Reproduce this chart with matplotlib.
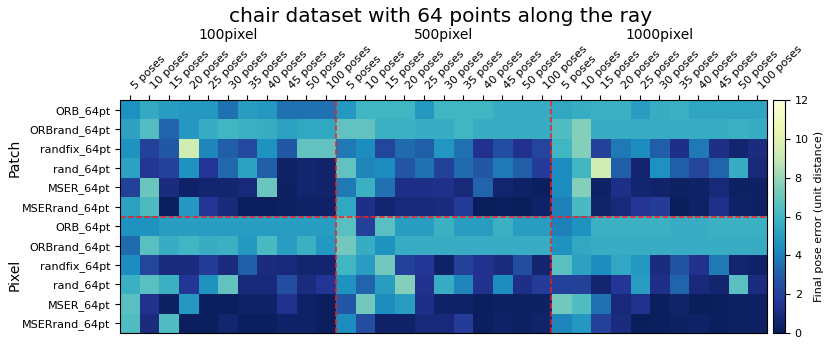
import numpy as np
import matplotlib
matplotlib.use("Agg")
import matplotlib.pyplot as plt

rows = ["ORB_64pt", "ORBrand_64pt", "randfix_64pt", "rand_64pt", "MSER_64pt", "MSERrand_64pt",
        "ORB_64pt", "ORBrand_64pt", "randfix_64pt", "rand_64pt", "MSER_64pt", "MSERrand_64pt"]
poses = ["5 poses", "10 poses", "15 poses", "20 poses", "25 poses", "30 poses",
         "35 poses", "40 poses", "45 poses", "50 poses", "100 poses"]
resolutions = ["100pixel", "500pixel", "1000pixel"]
groups = ["Patch", "Pixel"]

# values per resolution block (rows x 11 pose counts)
res100 = [
    [4.5, 5.5, 5.0, 4.8, 4.8, 3.6, 5.0, 4.8, 3.6, 3.6, 3.6],
    [5.2, 6.5, 3.2, 4.8, 5.6, 6.0, 5.8, 5.6, 5.2, 5.4, 5.4],
    [4.6, 2.0, 2.8, 9.3, 4.2, 3.0, 2.3, 4.6, 2.8, 6.8, 6.8],
    [5.2, 1.6, 2.0, 4.6, 1.5, 3.3, 5.2, 3.0, 0.4, 0.6, 0.5],
    [2.0, 7.0, 1.0, 0.4, 0.6, 0.6, 0.8, 7.0, 0.3, 0.6, 0.5],
    [5.2, 6.3, 0.2, 4.8, 1.5, 0.9, 0.2, 0.2, 0.3, 0.4, 0.4],
    [4.6, 4.6, 5.0, 5.0, 5.0, 5.0, 5.0, 5.0, 5.0, 5.0, 5.0],
    [3.4, 6.6, 5.6, 6.0, 5.6, 5.8, 4.8, 6.2, 5.0, 5.8, 4.8],
    [4.4, 2.2, 1.0, 1.0, 1.8, 1.0, 3.0, 1.0, 0.8, 0.6, 0.6],
    [5.8, 6.6, 5.8, 1.6, 4.6, 6.8, 0.8, 0.8, 2.4, 1.0, 1.5],
    [6.6, 1.4, 0.3, 4.8, 0.2, 0.2, 0.4, 0.4, 1.4, 0.4, 0.2],
    [6.4, 1.0, 6.4, 0.2, 0.2, 0.6, 0.2, 0.2, 0.4, 0.4, 0.2],
]
res500 = [
    [4.8, 6.0, 6.0, 6.0, 4.8, 6.0, 6.0, 6.0, 5.6, 5.6, 5.6],
    [6.8, 6.8, 5.8, 5.8, 5.6, 5.6, 6.0, 5.6, 5.6, 5.6, 5.6],
    [3.8, 4.4, 2.2, 3.4, 3.0, 4.7, 3.6, 1.4, 2.4, 1.4, 2.2],
    [6.8, 4.2, 4.4, 2.7, 3.6, 2.0, 3.4, 2.8, 3.8, 3.0, 1.8],
    [3.8, 5.8, 3.6, 1.2, 1.2, 1.3, 0.8, 3.2, 0.6, 0.4, 0.2],
    [5.4, 1.2, 0.6, 0.8, 0.9, 1.0, 1.8, 0.1, 0.2, 0.1, 0.4],
    [6.6, 2.0, 6.6, 5.0, 5.0, 5.8, 5.0, 5.0, 5.8, 5.0, 5.0],
    [7.2, 5.6, 4.6, 5.6, 5.6, 5.6, 5.6, 5.6, 5.6, 5.6, 5.6],
    [6.0, 5.0, 7.2, 2.0, 1.6, 0.4, 2.0, 1.4, 1.0, 2.4, 0.6],
    [4.6, 3.2, 5.0, 7.6, 1.4, 5.6, 4.2, 1.4, 4.4, 1.2, 1.8],
    [2.8, 7.2, 4.4, 5.0, 1.2, 0.4, 0.4, 0.2, 0.3, 0.3, 0.3],
    [4.4, 2.4, 0.4, 0.4, 0.8, 0.8, 1.8, 0.2, 0.4, 0.3, 0.5],
]
res1000 = [
    [5.4, 5.6, 5.8, 5.8, 5.0, 5.6, 5.8, 5.3, 5.3, 5.3, 5.3],
    [6.4, 7.6, 5.6, 5.6, 5.6, 5.6, 5.6, 5.6, 5.6, 5.8, 5.6],
    [6.0, 7.6, 2.0, 3.8, 4.4, 3.0, 1.2, 3.8, 1.2, 0.6, 1.0],
    [4.4, 6.0, 9.4, 3.0, 0.6, 4.5, 3.0, 2.2, 3.2, 5.6, 0.8],
    [4.4, 7.6, 0.4, 1.2, 0.6, 0.5, 0.3, 0.4, 0.8, 0.3, 0.3],
    [4.0, 6.2, 0.5, 0.8, 1.5, 1.8, 0.1, 0.4, 1.3, 0.4, 0.3],
    [4.0, 4.6, 5.8, 5.8, 5.8, 5.8, 5.6, 5.6, 5.8, 5.8, 5.8],
    [4.6, 5.4, 5.6, 5.6, 5.6, 5.6, 5.6, 5.6, 5.6, 5.6, 5.6],
    [6.6, 5.2, 4.4, 5.4, 4.8, 1.0, 2.6, 1.4, 3.8, 0.6, 0.4],
    [2.0, 2.0, 0.6, 1.6, 5.0, 1.2, 3.2, 0.8, 0.6, 6.6, 1.0],
    [7.2, 6.4, 3.6, 0.8, 1.4, 0.2, 0.5, 0.1, 0.2, 0.3, 0.3],
    [4.2, 4.8, 2.0, 1.0, 0.1, 0.2, 0.3, 0.4, 0.2, 0.3, 0.3],
]

data = np.hstack([np.array(res100), np.array(res500), np.array(res1000)])
nrows, ncols = data.shape
npos = len(poses)

fig = plt.figure(figsize=(8.3, 3.48), dpi=100)
W, H = 830, 348
ax = fig.add_axes([120 / W, 1 - 333 / H, (767 - 120) / W, (333 - 100) / H])
im = ax.imshow(data, cmap="YlGnBu_r", vmin=0, vmax=12, aspect="auto",
               interpolation="nearest", extent=(0, ncols, nrows, 0))

ax.xaxis.tick_top()
ax.set_xticks(np.arange(ncols) + 0.5)
ax.set_xticklabels(poses * len(resolutions), rotation=45, ha="left", fontsize=8)
ax.tick_params(axis="x", pad=3)
ax.set_yticks(np.arange(nrows) + 0.5)
ax.set_yticklabels(rows, fontsize=8)

for k in range(1, len(resolutions)):
    ax.axvline(k * npos, color="#ff1a1a", linestyle="--", linewidth=1.1)
ax.axhline(nrows / 2, color="#ff1a1a", linestyle="--", linewidth=1.1)

# group labels above (pixel-positioned)
ax_left, ax_w = 120, 767 - 120
for k, r in enumerate(resolutions):
    xc = ax_left + ax_w * (k + 0.5) / len(resolutions)
    fig.text(xc / W, 1 - 35 / H, r, ha="center", va="center", fontsize=10)
for k, g in enumerate(groups):
    ax.text(-5.4, (k + 0.5) * nrows / 2, g, ha="center", va="center",
            rotation=90, fontsize=10, clip_on=False)

cax = fig.add_axes([773 / W, 1 - 333 / H, 12 / W, (333 - 100) / H])
cb = fig.colorbar(im, cax=cax)
cb.set_ticks([0, 2, 4, 6, 8, 10, 12])
cb.ax.tick_params(labelsize=8)
cb.set_label("Final pose error (unit distance)", fontsize=8)

fig.text(441 / W, 1 - 17 / H, "chair dataset with 64 points along the ray",
         ha="center", va="center", fontsize=14.5)
fig.savefig("out.png", dpi=100)
